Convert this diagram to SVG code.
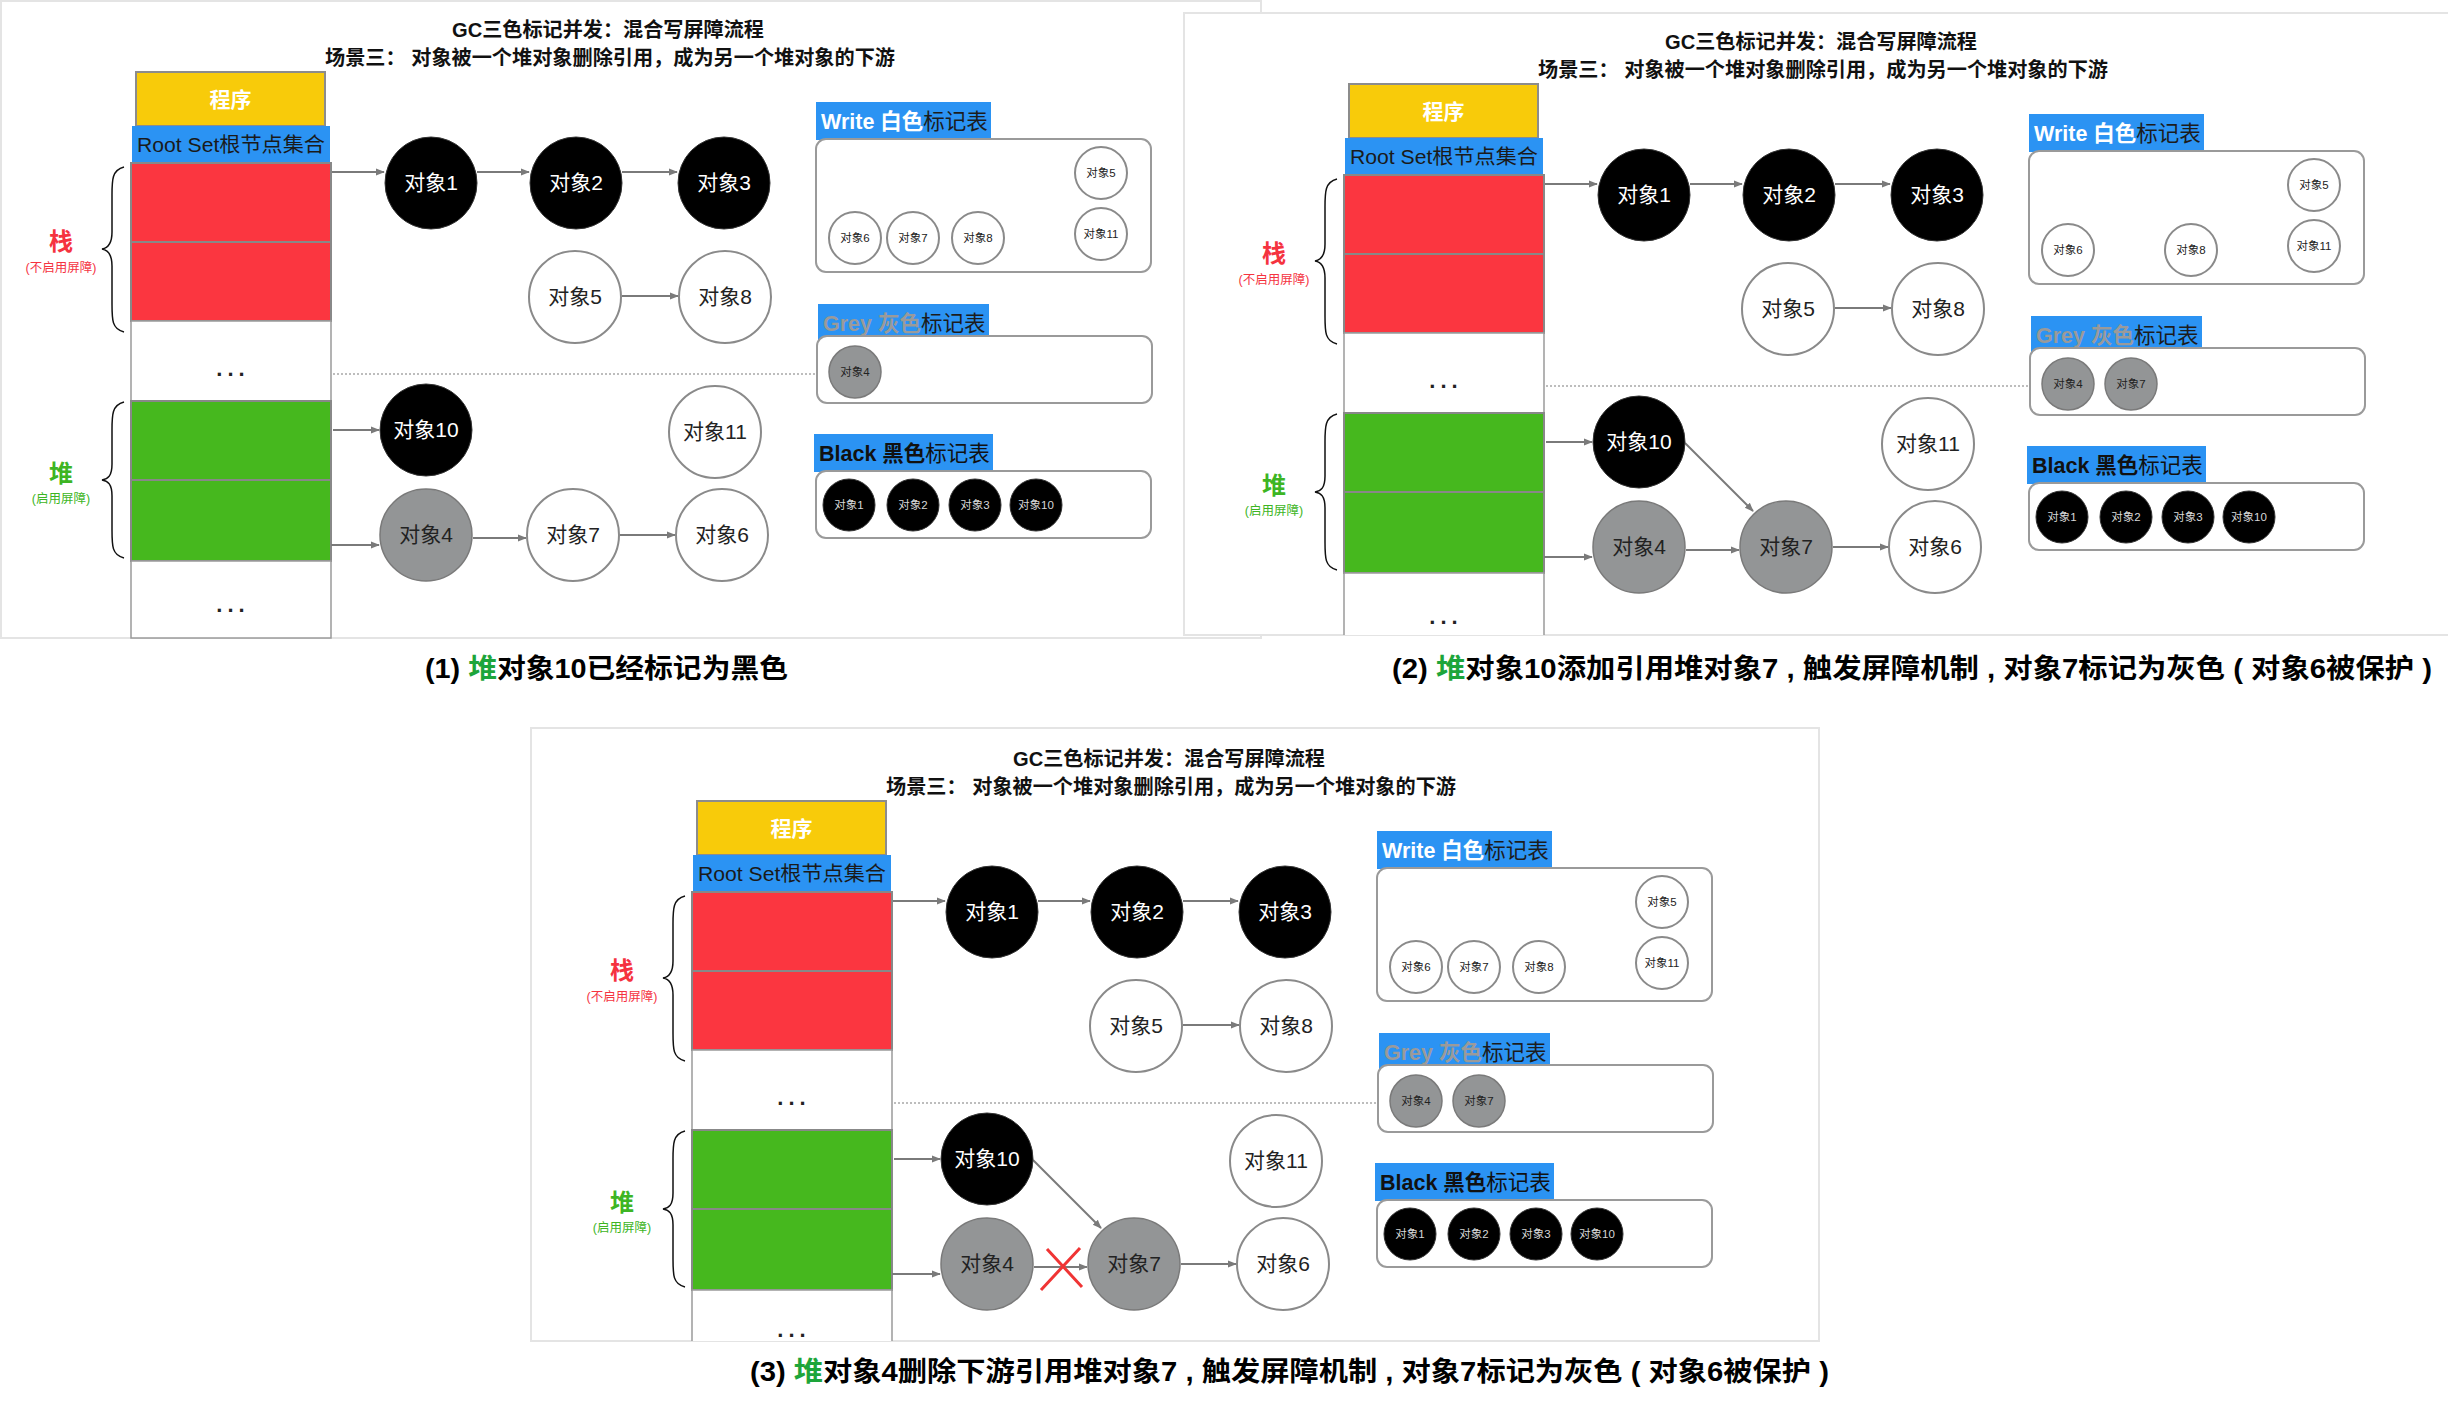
<svg xmlns="http://www.w3.org/2000/svg" width="2448" height="1404" viewBox="0 0 2448 1404">
<style>
.t{font-family:"Liberation Sans","Noto Sans CJK SC",sans-serif}
.frame{fill:#fff;stroke:#e4e4e4;stroke-width:2}
.prog{fill:#F8CB0A;stroke:#8c8c8c;stroke-width:2}
.root{fill:#2B93F3}
.red{fill:#FB3640;stroke:#888;stroke-width:2}
.green{fill:#46B81E;stroke:#888;stroke-width:2}
.wb{fill:#fff;stroke:#9a9a9a;stroke-width:1.5}
.cb{fill:#000;stroke:#333;stroke-width:1}
.cg{fill:#939596;stroke:#7a7a7a;stroke-width:1.5}
.cw{fill:#fff;stroke:#8a8a8a;stroke-width:2}
.lbl{font-size:21px;text-anchor:middle}
.lw{fill:#fff}
.ld{fill:#222}
.ls{fill:#d8d8d8}
.sm{font-size:11.5px;text-anchor:middle}
.edge{stroke:#7a7a7a;stroke-width:2;fill:none;marker-end:url(#ah)}
.dot{stroke:#bdbdbd;stroke-width:2;stroke-dasharray:2 2;fill:none}
.tbl{fill:#fff;stroke:#9a9a9a;stroke-width:2}
.tag{fill:#2B93F3}
.brace{fill:none;stroke:#111;stroke-width:1.5}
.title{font-size:20px;font-weight:bold;text-anchor:middle;fill:#111}
.tagt{font-size:21.5px}
.b{font-weight:bold}
.dots{font-size:22px;font-weight:bold;fill:#222;text-anchor:middle;letter-spacing:5px}
.cap{font-size:27px;fill:#000;font-weight:600}
.cross{stroke:#F03434;stroke-width:3}
</style>
<defs>
<marker id="ah" viewBox="0 0 10 10" refX="9" refY="5" markerWidth="9" markerHeight="9" markerUnits="userSpaceOnUse" orient="auto"><path d="M0,1 L10,5 L0,9 z" fill="#7a7a7a"/></marker>
<clipPath id="c1"><rect x="0" y="0" width="1262" height="639"/></clipPath>
<clipPath id="c2"><rect x="1184" y="13" width="1264" height="622"/></clipPath>
<clipPath id="c3"><rect x="531" y="728" width="1288" height="613"/></clipPath>
</defs>
<rect width="2448" height="1404" fill="#fff"/>

<!-- ================= PANEL 1 ================= -->
<rect class="frame" x="1" y="1" width="1260" height="637"/>
<g id="panel1" clip-path="url(#c1)">
<g class="t">
<text class="title" x="608" y="37" textLength="312" lengthAdjust="spacingAndGlyphs">GC三色标记并发：混合写屏障流程</text>
<text class="title" x="610" y="65" textLength="570" lengthAdjust="spacingAndGlyphs">场景三：  对象被一个堆对象删除引用，成为另一个堆对象的下游</text>
</g>
<g id="p1-stack" class="t">
<rect class="prog" x="136" y="72" width="189" height="54"/>
<text x="230.5" y="107" font-size="21" font-weight="bold" fill="#fff" text-anchor="middle">程序</text>
<rect class="root" x="132" y="126" width="198" height="37"/>
<text x="231" y="152" font-size="20" fill="#1a1a1a" text-anchor="middle" textLength="188" lengthAdjust="spacingAndGlyphs">Root Set根节点集合</text>
<rect class="red" x="131" y="163" width="200" height="79"/>
<rect class="red" x="131" y="242" width="200" height="79"/>
<rect class="wb" x="131" y="321" width="200" height="80"/>
<text class="dots" x="233" y="376">...</text>
<rect class="green" x="131" y="401" width="200" height="79"/>
<rect class="green" x="131" y="480" width="200" height="81"/>
<rect class="wb" x="131" y="561" width="200" height="77"/>
<text class="dots" x="233" y="612">...</text>
<path class="brace" d="M124,167 C112,170 112,180 112,195 L112,232 C112,244 108,248 102,249 C108,250 112,254 112,266 L112,304 C112,320 112,329 124,332"/>
<path class="brace" d="M124,402 C112,405 112,415 112,430 L112,464 C112,476 108,479 102,480 C108,481 112,484 112,496 L112,530 C112,546 112,555 124,558"/>
<text x="61" y="250" font-size="24" font-weight="bold" fill="#F5333F" text-anchor="middle">栈</text>
<text x="61" y="272" font-size="12.5" fill="#F5333F" text-anchor="middle">(不启用屏障)</text>
<text x="61" y="482" font-size="24" font-weight="bold" fill="#3DB523" text-anchor="middle">堆</text>
<text x="61" y="503" font-size="12.5" fill="#3DB523" text-anchor="middle">(启用屏障)</text>
</g>
<g id="p1-edges">
<path class="edge" d="M332,172 H384"/>
<path class="edge" d="M477,172 H529"/>
<path class="edge" d="M622,172 H677"/>
<path class="edge" d="M622,296 H678"/>
<path class="edge" d="M333,430 H379"/>
<path class="edge" d="M331,545 H379"/>
<path class="edge" d="M473,538 H526"/>
<path class="edge" d="M620,535 H675"/>
<path class="dot" d="M333,374 H816"/>
</g>
<g class="t">
<g id="p1-obj1"><circle class="cb" cx="431" cy="183" r="46"/><text class="lbl lw" x="431" y="190">对象1</text></g>
<g id="p1-obj2"><circle class="cb" cx="576" cy="183" r="46"/><text class="lbl lw" x="576" y="190">对象2</text></g>
<g id="p1-obj3"><circle class="cb" cx="724" cy="183" r="46"/><text class="lbl lw" x="724" y="190">对象3</text></g>
<g id="p1-obj5"><circle class="cw" cx="575" cy="297" r="46"/><text class="lbl ld" x="575" y="304">对象5</text></g>
<g id="p1-obj8"><circle class="cw" cx="725" cy="297" r="46"/><text class="lbl ld" x="725" y="304">对象8</text></g>
<g id="p1-obj10"><circle class="cb" cx="426" cy="430" r="46"/><text class="lbl lw" x="426" y="437">对象10</text></g>
<g id="p1-obj11"><circle class="cw" cx="715" cy="432" r="46"/><text class="lbl ld" x="715" y="439">对象11</text></g>
<g id="p1-obj4"><circle class="cg" cx="426" cy="535" r="46"/><text class="lbl ld" x="426" y="542">对象4</text></g>
<g id="p1-obj7"><circle class="cw" cx="573" cy="535" r="46"/><text class="lbl ld" x="573" y="542">对象7</text></g>
<g id="p1-obj6"><circle class="cw" cx="722" cy="535" r="46"/><text class="lbl ld" x="722" y="542">对象6</text></g>
</g>
<g id="p1-white-table" class="t">
<rect class="tag" x="816" y="102" width="175" height="38"/>
<text class="tagt" x="821" y="129"><tspan class="b" fill="#fff">Write 白色</tspan><tspan fill="#1c1c1c">标记表</tspan></text>
<rect class="tbl" x="816" y="139" width="335" height="133" rx="10"/>
<circle class="cw" cx="1101" cy="173" r="26"/><text class="sm ld" x="1101" y="177">对象5</text>
<circle class="cw" cx="1101" cy="234" r="26"/><text class="sm ld" x="1101" y="238">对象11</text>
<circle class="cw" cx="855" cy="238" r="26"/><text class="sm ld" x="855" y="242">对象6</text>
<circle class="cw" cx="913" cy="238" r="26"/><text class="sm ld" x="913" y="242">对象7</text>
<circle class="cw" cx="978" cy="238" r="26"/><text class="sm ld" x="978" y="242">对象8</text>
</g>
<g id="p1-grey-table" class="t">
<rect class="tag" x="818" y="304" width="171" height="38"/>
<text class="tagt" x="823" y="331"><tspan class="b" fill="#9a9a9a">Grey 灰色</tspan><tspan fill="#1c1c1c">标记表</tspan></text>
<rect class="tbl" x="817" y="336" width="335" height="67" rx="10"/>
<circle class="cg" cx="855" cy="372" r="26"/><text class="sm ld" x="855" y="376">对象4</text>
</g>
<g id="p1-black-table" class="t">
<rect class="tag" x="814" y="434" width="179" height="38"/>
<text class="tagt" x="819" y="461"><tspan class="b" fill="#111">Black 黑色</tspan><tspan fill="#111">标记表</tspan></text>
<rect class="tbl" x="816" y="471" width="335" height="67" rx="10"/>
<circle class="cb" cx="849" cy="505" r="26"/><text class="sm ls" x="849" y="509">对象1</text>
<circle class="cb" cx="913" cy="505" r="26"/><text class="sm ls" x="913" y="509">对象2</text>
<circle class="cb" cx="975" cy="505" r="26"/><text class="sm ls" x="975" y="509">对象3</text>
<circle class="cb" cx="1036" cy="505" r="26"/><text class="sm ls" x="1036" y="509">对象10</text>
</g>
</g>

<!-- ================= PANEL 2 ================= -->
<rect class="frame" x="1184" y="13" width="1270" height="622"/>
<g id="panel2" clip-path="url(#c2)">
<g transform="translate(1213,12)">
<g class="t">
<text class="title" x="608" y="37" textLength="312" lengthAdjust="spacingAndGlyphs">GC三色标记并发：混合写屏障流程</text>
<text class="title" x="610" y="65" textLength="570" lengthAdjust="spacingAndGlyphs">场景三：  对象被一个堆对象删除引用，成为另一个堆对象的下游</text>
</g>
<g id="p2-stack" class="t">
<rect class="prog" x="136" y="72" width="189" height="54"/>
<text x="230.5" y="107" font-size="21" font-weight="bold" fill="#fff" text-anchor="middle">程序</text>
<rect class="root" x="132" y="126" width="198" height="37"/>
<text x="231" y="152" font-size="20" fill="#1a1a1a" text-anchor="middle" textLength="188" lengthAdjust="spacingAndGlyphs">Root Set根节点集合</text>
<rect class="red" x="131" y="163" width="200" height="79"/>
<rect class="red" x="131" y="242" width="200" height="79"/>
<rect class="wb" x="131" y="321" width="200" height="80"/>
<text class="dots" x="233" y="376">...</text>
<rect class="green" x="131" y="401" width="200" height="79"/>
<rect class="green" x="131" y="480" width="200" height="81"/>
<rect class="wb" x="131" y="561" width="200" height="77"/>
<text class="dots" x="233" y="612">...</text>
<path class="brace" d="M124,167 C112,170 112,180 112,195 L112,232 C112,244 108,248 102,249 C108,250 112,254 112,266 L112,304 C112,320 112,329 124,332"/>
<path class="brace" d="M124,402 C112,405 112,415 112,430 L112,464 C112,476 108,479 102,480 C108,481 112,484 112,496 L112,530 C112,546 112,555 124,558"/>
<text x="61" y="250" font-size="24" font-weight="bold" fill="#F5333F" text-anchor="middle">栈</text>
<text x="61" y="272" font-size="12.5" fill="#F5333F" text-anchor="middle">(不启用屏障)</text>
<text x="61" y="482" font-size="24" font-weight="bold" fill="#3DB523" text-anchor="middle">堆</text>
<text x="61" y="503" font-size="12.5" fill="#3DB523" text-anchor="middle">(启用屏障)</text>
</g>
<g id="p2-edges">
<path class="edge" d="M332,172 H384"/>
<path class="edge" d="M477,172 H529"/>
<path class="edge" d="M622,172 H677"/>
<path class="edge" d="M622,296 H678"/>
<path class="edge" d="M333,430 H379"/>
<path class="edge" d="M331,545 H379"/>
<path class="edge" d="M473,538 H526"/>
<path class="edge" d="M620,535 H675"/>
<path class="edge" d="M472,431 L540,499"/>
<path class="dot" d="M333,374 H816"/>
</g>
<g class="t">
<g id="p2-obj1"><circle class="cb" cx="431" cy="183" r="46"/><text class="lbl lw" x="431" y="190">对象1</text></g>
<g id="p2-obj2"><circle class="cb" cx="576" cy="183" r="46"/><text class="lbl lw" x="576" y="190">对象2</text></g>
<g id="p2-obj3"><circle class="cb" cx="724" cy="183" r="46"/><text class="lbl lw" x="724" y="190">对象3</text></g>
<g id="p2-obj5"><circle class="cw" cx="575" cy="297" r="46"/><text class="lbl ld" x="575" y="304">对象5</text></g>
<g id="p2-obj8"><circle class="cw" cx="725" cy="297" r="46"/><text class="lbl ld" x="725" y="304">对象8</text></g>
<g id="p2-obj10"><circle class="cb" cx="426" cy="430" r="46"/><text class="lbl lw" x="426" y="437">对象10</text></g>
<g id="p2-obj11"><circle class="cw" cx="715" cy="432" r="46"/><text class="lbl ld" x="715" y="439">对象11</text></g>
<g id="p2-obj4"><circle class="cg" cx="426" cy="535" r="46"/><text class="lbl ld" x="426" y="542">对象4</text></g>
<g id="p2-obj7"><circle class="cg" cx="573" cy="535" r="46"/><text class="lbl ld" x="573" y="542">对象7</text></g>
<g id="p2-obj6"><circle class="cw" cx="722" cy="535" r="46"/><text class="lbl ld" x="722" y="542">对象6</text></g>
</g>
<g id="p2-white-table" class="t">
<rect class="tag" x="816" y="102" width="175" height="38"/>
<text class="tagt" x="821" y="129"><tspan class="b" fill="#fff">Write 白色</tspan><tspan fill="#1c1c1c">标记表</tspan></text>
<rect class="tbl" x="816" y="139" width="335" height="133" rx="10"/>
<circle class="cw" cx="1101" cy="173" r="26"/><text class="sm ld" x="1101" y="177">对象5</text>
<circle class="cw" cx="1101" cy="234" r="26"/><text class="sm ld" x="1101" y="238">对象11</text>
<circle class="cw" cx="855" cy="238" r="26"/><text class="sm ld" x="855" y="242">对象6</text>
<circle class="cw" cx="978" cy="238" r="26"/><text class="sm ld" x="978" y="242">对象8</text>
</g>
<g id="p2-grey-table" class="t">
<rect class="tag" x="818" y="304" width="171" height="38"/>
<text class="tagt" x="823" y="331"><tspan class="b" fill="#9a9a9a">Grey 灰色</tspan><tspan fill="#1c1c1c">标记表</tspan></text>
<rect class="tbl" x="817" y="336" width="335" height="67" rx="10"/>
<circle class="cg" cx="855" cy="372" r="26"/><text class="sm ld" x="855" y="376">对象4</text>
<circle class="cg" cx="918" cy="372" r="26"/><text class="sm ld" x="918" y="376">对象7</text>
</g>
<g id="p2-black-table" class="t">
<rect class="tag" x="814" y="434" width="179" height="38"/>
<text class="tagt" x="819" y="461"><tspan class="b" fill="#111">Black 黑色</tspan><tspan fill="#111">标记表</tspan></text>
<rect class="tbl" x="816" y="471" width="335" height="67" rx="10"/>
<circle class="cb" cx="849" cy="505" r="26"/><text class="sm ls" x="849" y="509">对象1</text>
<circle class="cb" cx="913" cy="505" r="26"/><text class="sm ls" x="913" y="509">对象2</text>
<circle class="cb" cx="975" cy="505" r="26"/><text class="sm ls" x="975" y="509">对象3</text>
<circle class="cb" cx="1036" cy="505" r="26"/><text class="sm ls" x="1036" y="509">对象10</text>
</g>
</g>
</g>

<!-- ================= PANEL 3 ================= -->
<rect class="frame" x="531" y="728" width="1288" height="613"/>
<g id="panel3" clip-path="url(#c3)">
<g transform="translate(561,729)">
<g class="t">
<text class="title" x="608" y="37" textLength="312" lengthAdjust="spacingAndGlyphs">GC三色标记并发：混合写屏障流程</text>
<text class="title" x="610" y="65" textLength="570" lengthAdjust="spacingAndGlyphs">场景三：  对象被一个堆对象删除引用，成为另一个堆对象的下游</text>
</g>
<g id="p3-stack" class="t">
<rect class="prog" x="136" y="72" width="189" height="54"/>
<text x="230.5" y="107" font-size="21" font-weight="bold" fill="#fff" text-anchor="middle">程序</text>
<rect class="root" x="132" y="126" width="198" height="37"/>
<text x="231" y="152" font-size="20" fill="#1a1a1a" text-anchor="middle" textLength="188" lengthAdjust="spacingAndGlyphs">Root Set根节点集合</text>
<rect class="red" x="131" y="163" width="200" height="79"/>
<rect class="red" x="131" y="242" width="200" height="79"/>
<rect class="wb" x="131" y="321" width="200" height="80"/>
<text class="dots" x="233" y="376">...</text>
<rect class="green" x="131" y="401" width="200" height="79"/>
<rect class="green" x="131" y="480" width="200" height="81"/>
<rect class="wb" x="131" y="561" width="200" height="77"/>
<text class="dots" x="233" y="608">...</text>
<path class="brace" d="M124,167 C112,170 112,180 112,195 L112,232 C112,244 108,248 102,249 C108,250 112,254 112,266 L112,304 C112,320 112,329 124,332"/>
<path class="brace" d="M124,402 C112,405 112,415 112,430 L112,464 C112,476 108,479 102,480 C108,481 112,484 112,496 L112,530 C112,546 112,555 124,558"/>
<text x="61" y="250" font-size="24" font-weight="bold" fill="#F5333F" text-anchor="middle">栈</text>
<text x="61" y="272" font-size="12.5" fill="#F5333F" text-anchor="middle">(不启用屏障)</text>
<text x="61" y="482" font-size="24" font-weight="bold" fill="#3DB523" text-anchor="middle">堆</text>
<text x="61" y="503" font-size="12.5" fill="#3DB523" text-anchor="middle">(启用屏障)</text>
</g>
<g id="p3-edges">
<path class="edge" d="M332,172 H384"/>
<path class="edge" d="M477,172 H529"/>
<path class="edge" d="M622,172 H677"/>
<path class="edge" d="M622,296 H678"/>
<path class="edge" d="M333,430 H379"/>
<path class="edge" d="M331,545 H379"/>
<path class="edge" d="M473,538 H526"/>
<path class="edge" d="M620,535 H675"/>
<path class="edge" d="M472,431 L540,499"/>
<path class="dot" d="M333,374 H816"/>
<path class="cross" d="M519,519 L480,561 M486,520 L521,558"/>
</g>
<g class="t">
<g id="p3-obj1"><circle class="cb" cx="431" cy="183" r="46"/><text class="lbl lw" x="431" y="190">对象1</text></g>
<g id="p3-obj2"><circle class="cb" cx="576" cy="183" r="46"/><text class="lbl lw" x="576" y="190">对象2</text></g>
<g id="p3-obj3"><circle class="cb" cx="724" cy="183" r="46"/><text class="lbl lw" x="724" y="190">对象3</text></g>
<g id="p3-obj5"><circle class="cw" cx="575" cy="297" r="46"/><text class="lbl ld" x="575" y="304">对象5</text></g>
<g id="p3-obj8"><circle class="cw" cx="725" cy="297" r="46"/><text class="lbl ld" x="725" y="304">对象8</text></g>
<g id="p3-obj10"><circle class="cb" cx="426" cy="430" r="46"/><text class="lbl lw" x="426" y="437">对象10</text></g>
<g id="p3-obj11"><circle class="cw" cx="715" cy="432" r="46"/><text class="lbl ld" x="715" y="439">对象11</text></g>
<g id="p3-obj4"><circle class="cg" cx="426" cy="535" r="46"/><text class="lbl ld" x="426" y="542">对象4</text></g>
<g id="p3-obj7"><circle class="cg" cx="573" cy="535" r="46"/><text class="lbl ld" x="573" y="542">对象7</text></g>
<g id="p3-obj6"><circle class="cw" cx="722" cy="535" r="46"/><text class="lbl ld" x="722" y="542">对象6</text></g>
</g>
<g id="p3-white-table" class="t">
<rect class="tag" x="816" y="102" width="175" height="38"/>
<text class="tagt" x="821" y="129"><tspan class="b" fill="#fff">Write 白色</tspan><tspan fill="#1c1c1c">标记表</tspan></text>
<rect class="tbl" x="816" y="139" width="335" height="133" rx="10"/>
<circle class="cw" cx="1101" cy="173" r="26"/><text class="sm ld" x="1101" y="177">对象5</text>
<circle class="cw" cx="1101" cy="234" r="26"/><text class="sm ld" x="1101" y="238">对象11</text>
<circle class="cw" cx="855" cy="238" r="26"/><text class="sm ld" x="855" y="242">对象6</text>
<circle class="cw" cx="913" cy="238" r="26"/><text class="sm ld" x="913" y="242">对象7</text>
<circle class="cw" cx="978" cy="238" r="26"/><text class="sm ld" x="978" y="242">对象8</text>
</g>
<g id="p3-grey-table" class="t">
<rect class="tag" x="818" y="304" width="171" height="38"/>
<text class="tagt" x="823" y="331"><tspan class="b" fill="#9a9a9a">Grey 灰色</tspan><tspan fill="#1c1c1c">标记表</tspan></text>
<rect class="tbl" x="817" y="336" width="335" height="67" rx="10"/>
<circle class="cg" cx="855" cy="372" r="26"/><text class="sm ld" x="855" y="376">对象4</text>
<circle class="cg" cx="918" cy="372" r="26"/><text class="sm ld" x="918" y="376">对象7</text>
</g>
<g id="p3-black-table" class="t">
<rect class="tag" x="814" y="434" width="179" height="38"/>
<text class="tagt" x="819" y="461"><tspan class="b" fill="#111">Black 黑色</tspan><tspan fill="#111">标记表</tspan></text>
<rect class="tbl" x="816" y="471" width="335" height="67" rx="10"/>
<circle class="cb" cx="849" cy="505" r="26"/><text class="sm ls" x="849" y="509">对象1</text>
<circle class="cb" cx="913" cy="505" r="26"/><text class="sm ls" x="913" y="509">对象2</text>
<circle class="cb" cx="975" cy="505" r="26"/><text class="sm ls" x="975" y="509">对象3</text>
<circle class="cb" cx="1036" cy="505" r="26"/><text class="sm ls" x="1036" y="509">对象10</text>
</g>
</g>
</g>

<!-- ================= CAPTIONS ================= -->
<g id="captions" class="t">
<text class="cap" x="425" y="678" textLength="363" lengthAdjust="spacingAndGlyphs">(1) <tspan fill="#1DA53A">堆</tspan>对象10已经标记为黑色</text>
<text class="cap" x="1392" y="678" textLength="1040" lengthAdjust="spacingAndGlyphs">(2) <tspan fill="#1DA53A">堆</tspan>对象10添加引用堆对象7 , 触发屏障机制 , 对象7标记为灰色 ( 对象6被保护 )</text>
<text class="cap" x="750" y="1381" textLength="1079" lengthAdjust="spacingAndGlyphs">(3) <tspan fill="#1DA53A">堆</tspan>对象4删除下游引用堆对象7 , 触发屏障机制 , 对象7标记为灰色 ( 对象6被保护 )</text>
</g>
</svg>
